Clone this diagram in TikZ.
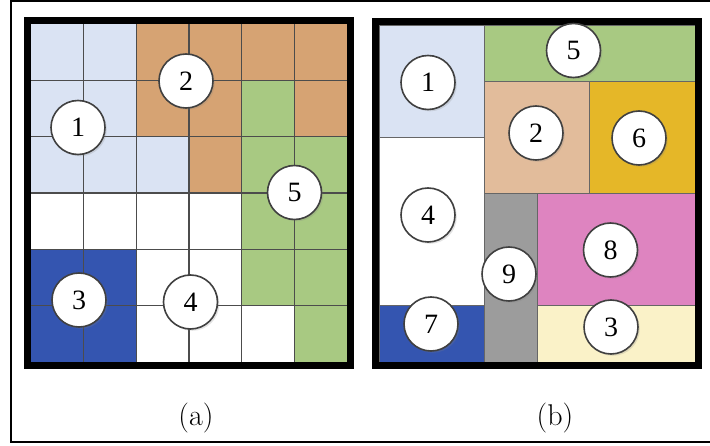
\documentclass[tikz,border=0pt]{standalone}
\usepackage{fontspec}
\usepackage{tikz}
\usetikzlibrary{shadows}
\newfontfamily\discfont{Liberation Serif}
\definecolor{cellblue}{RGB}{218,227,243}
\definecolor{cellorange}{RGB}{214,163,115}
\definecolor{cellgreen}{RGB}{168,201,130}
\definecolor{celldeep}{RGB}{52,85,176}
\definecolor{cellpeach}{RGB}{226,188,155}
\definecolor{cellgold}{RGB}{229,183,40}
\definecolor{cellpink}{RGB}{222,132,192}
\definecolor{cellgray}{RGB}{156,156,156}
\definecolor{cellcream}{RGB}{250,242,200}
\pgfdeclareradialshading{discshade}{\pgfpoint{0bp}{0bp}}{%
 color(0bp)=(white); color(36bp)=(white); color(50bp)=(black!18)}

\begin{document}
\begin{tikzpicture}[x=1pt,y=-1pt,line join=miter,
  cellgrid/.style={black!70,line width=1.4pt},
  blockline/.style={draw=black!60,line width=.9pt},
  thickframe/.style={line width=7pt},
  ball/.style={circle,draw=black!75,line width=1.6pt,minimum size=54pt,inner sep=0pt,
   shading=discshade,
   drop shadow={opacity=.22,shadow xshift=1.8pt,shadow yshift=-1.8pt},
   font=\discfont\fontsize{28}{28}\selectfont},
  caption/.style={font=\fontsize{30}{32}\selectfont}]
 \useasboundingbox (0,0) rectangle (710,446);
 % Ramka całości (prawy bok ucięty).
 \draw[line width=2pt] (710,1.5) -- (11,1.5) -- (11,442) -- (710,442);
 % (a): siatka 6x6.
 \begin{scope}[shift={(31,24)},x=52.667pt,y=-56.333pt]
  \fill[white] (0,0) rectangle (6,6);
  \fill[cellblue] (0,0) rectangle (2,3) (2,2) rectangle (3,3);
  \fill[cellorange] (2,0) rectangle (6,1) (2,1) rectangle (4,2)
   (5,1) rectangle (6,2) (3,2) rectangle (4,3);
  \fill[cellgreen] (4,1) rectangle (5,2) (4,2) rectangle (6,5)
   (5,5) rectangle (6,6);
  \fill[celldeep] (0,4) rectangle (2,6);
  \foreach \i in {1,...,5} {
   \draw[cellgrid] (\i,0) -- (\i,6);
   \draw[cellgrid] (0,\i) -- (6,\i);
  }
 \end{scope}
 \draw[thickframe] (27.5,21) rectangle (350.5,365.5);
 \node[ball] (a1) at (78,127.5) {1};
 \node[ball] (a2) at (186,81) {2};
 \node[ball] (a5) at (294.5,192.5) {5};
 \node[ball] (a3) at (79,300) {3};
 \node[ball] (a4) at (190.5,302) {4};
 % (b): bloki scalone.
 \begin{scope}[shift={(379,25)},x=52.667pt,y=-56.167pt]
  \path[blockline,fill=cellblue] (0,0) rectangle (2,2);
  \path[blockline,fill=cellgreen] (2,0) rectangle (6,1);
  \path[blockline,fill=cellpeach] (2,1) rectangle (4,3);
  \path[blockline,fill=cellgold] (4,1) rectangle (6,3);
  \path[blockline,fill=white] (0,2) rectangle (2,5);
  \path[blockline,fill=celldeep] (0,5) rectangle (2,6);
  \path[blockline,fill=cellgray] (2,3) rectangle (3,6);
  \path[blockline,fill=cellpink] (3,3) rectangle (6,5);
  \path[blockline,fill=cellcream] (3,5) rectangle (6,6);
 \end{scope}
 \draw[thickframe] (375.5,21.5) rectangle (698.5,365.5);
 \node[ball] (b1) at (428,82.5) {1};
 \node[ball] (b5) at (573.5,50.5) {5};
 \node[ball] (b2) at (536,133) {2};
 \node[ball] (b6) at (639,138) {6};
 \node[ball] (b4) at (428,215) {4};
 \node[ball] (b9) at (509,274) {9};
 \node[ball] (b8) at (610.5,250) {8};
 \node[ball] (b7) at (431,324) {7};
 \node[ball] (b3) at (611,327) {3};
 % Podpisy.
 \node[caption] (capa) at (196,418) {(a)};
 \node[caption] (capb) at (555,418) {(b)};
\end{tikzpicture}
\end{document}
